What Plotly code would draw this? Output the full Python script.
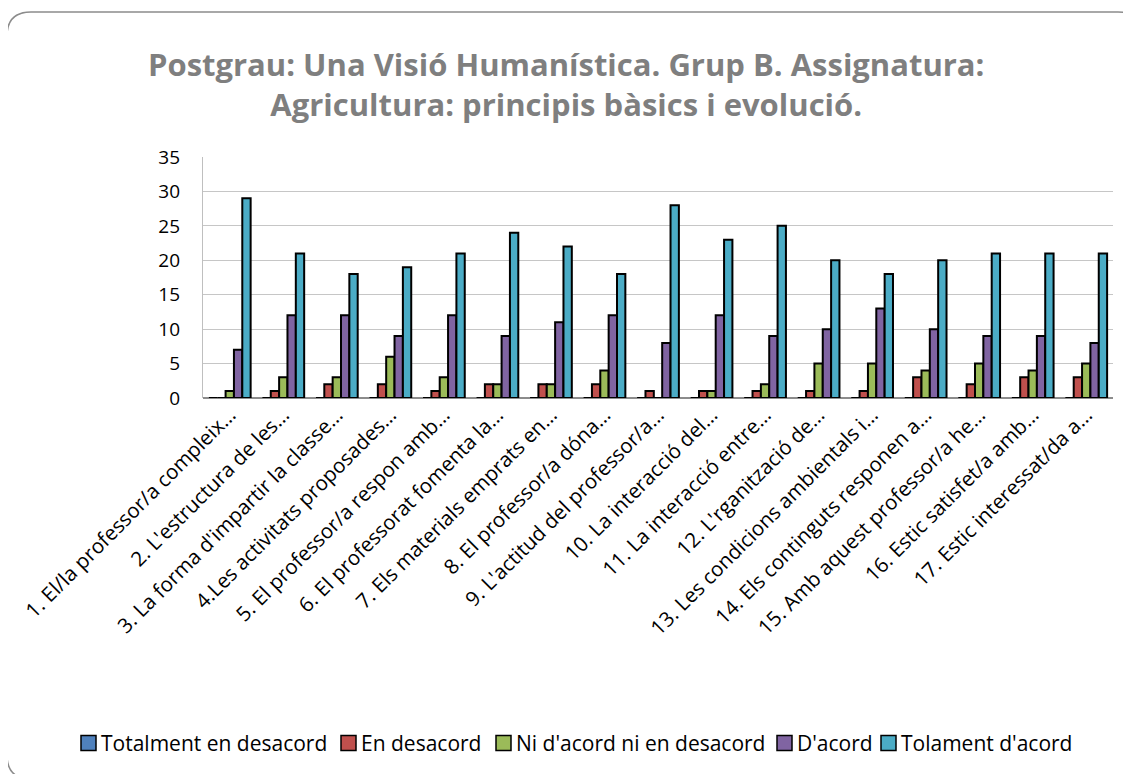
import plotly.graph_objects as go

categories = [
    "1. El/la professor/a compleix...",
    "2. L'estructura de les...",
    "3. La forma d'impartir la classe...",
    "4.Les activitats proposades...",
    "5. El professor/a respon amb...",
    "6. El professorat fomenta la...",
    "7. Els materials emprats en...",
    "8. El professor/a dóna...",
    "9. L'actitud del professor/a...",
    "10. La interacció del...",
    "11. La interacció entre...",
    "12. L'rganització de...",
    "13. Les condicions ambientals i...",
    "14. Els continguts responen a...",
    "15. Amb aquest professor/a he...",
    "16. Estic satisfet/a amb...",
    "17. Estic interessat/da a...",
]
categories = [c.replace("...", "…") for c in categories]

series_names = ["Totalment en desacord", "En desacord", "Ni d'acord ni en desacord",
                "D'acord", "Tolament d'acord"]
totalment_desacord = [0, 0, 0, 0, 0, 0, 0, 0, 0, 0, 0, 0, 0, 0, 0, 0, 0]
en_desacord = [0, 1, 2, 2, 1, 2, 2, 2, 1, 1, 1, 1, 1, 3, 2, 3, 3]
ni_acord = [1, 3, 3, 6, 3, 2, 2, 4, 0, 1, 2, 5, 5, 4, 5, 4, 5]
d_acord = [7, 12, 12, 9, 12, 9, 11, 12, 8, 12, 9, 10, 13, 10, 9, 9, 8]
totalment_acord = [29, 21, 18, 19, 21, 24, 22, 18, 28, 23, 25, 20, 18, 20, 21, 21, 21]
colors = ["#4F81BD", "#C0504D", "#9BBB59", "#8064A2", "#4BACC6"]

OFF = 8  # page body margin
W, H = 1131 - OFF, 774 - OFF
PL, PR, PT, PB = 203, 1113, 157, 398  # plot area in screen pixels
L, R, T, B = PL - OFF, W - (PR - OFF), PT - OFF, H - (PB - OFF)
FONT = "Open Sans, Lato, sans-serif"

fig = go.Figure()
for name, vals, col in zip(series_names,
                           [totalment_desacord, en_desacord, ni_acord, d_acord, totalment_acord],
                           colors):
    fig.add_trace(go.Bar(x=categories, y=vals, name=name,
                         marker=dict(color=col, line=dict(color="black", width=2))))

pw = PR - PL
ph = PB - PT


def px(x):
    return (x - PL) / pw


def py(y):
    return (PB - y) / ph


x0, x1, y0, y1, r = 7, 1142, 12, 779, 24
path = (f"M {px(x0 + r)},{py(y0)} L {px(x1 - r)},{py(y0)} "
        f"Q {px(x1)},{py(y0)} {px(x1)},{py(y0 + r)} L {px(x1)},{py(y1 - r)} "
        f"Q {px(x1)},{py(y1)} {px(x1 - r)},{py(y1)} L {px(x0 + r)},{py(y1)} "
        f"Q {px(x0)},{py(y1)} {px(x0)},{py(y1 - r)} L {px(x0)},{py(y0 + r)} "
        f"Q {px(x0)},{py(y0)} {px(x0 + r)},{py(y0)} Z")

shapes = [dict(type="path", path=path, xref="paper", yref="paper",
               line=dict(color="#8C8C8C", width=1.5), layer="below")]
annotations = [dict(text="<b>Postgrau: Una Visió Humanística. Grup B. Assignatura:<br>Agricultura: principis bàsics i evolució.</b>",
                    xref="paper", yref="paper", x=px(566), y=py(84),
                    xanchor="center", yanchor="middle", showarrow=False,
                    font=dict(size=31, color="#7F7F7F", family=FONT),
                    align="center")]

# legend (drawn manually so it stays on one row like the original)
legend_box_x = [81, 341, 496, 777, 881]
legend_y = 743
for name, col, bx in zip(series_names, colors, legend_box_x):
    shapes.append(dict(type="rect", xref="paper", yref="paper",
                       x0=px(bx), x1=px(bx + 15), y0=py(legend_y + 7.5), y1=py(legend_y - 7.5),
                       fillcolor=col, line=dict(color="black", width=1.5)))
    annotations.append(dict(text=name, xref="paper", yref="paper", x=px(bx + 18), y=py(legend_y),
                            xanchor="left", yanchor="middle", showarrow=False,
                            font=dict(size=21, color="#000000", family=FONT)))

fig.update_layout(
    width=W, height=H,
    margin=dict(l=L, r=R, t=T, b=B, autoexpand=False),
    paper_bgcolor="white", plot_bgcolor="white",
    font=dict(family=FONT, color="#000000", size=19),
    barmode="group", bargap=0.22, bargroupgap=0,
    showlegend=False,
    shapes=shapes,
    annotations=annotations,
)
fig.update_xaxes(tickangle=-45, showline=False, ticks="", showgrid=False,
                 tickfont=dict(size=20.5))
fig.update_yaxes(range=[0, 35], dtick=5, showgrid=True, gridcolor="#C6C6C6", gridwidth=1.3,
                 showline=True, linecolor="#BFBFBF", linewidth=1.3, ticks="",
                 zeroline=True, zerolinecolor="#8C8C8C", zerolinewidth=1.5,
                 tickfont=dict(size=19), ticklabelstandoff=18)

fig.write_html("out.html")
